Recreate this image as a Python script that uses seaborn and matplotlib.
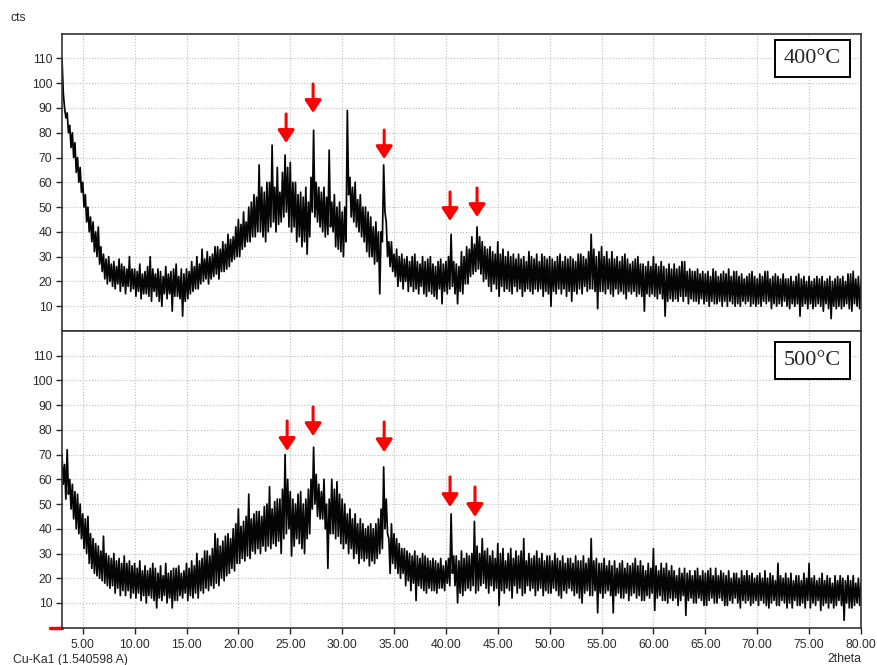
import numpy as np
import pandas as pd
import seaborn as sns
import matplotlib.pyplot as plt

# scan: 3.00 - 80.00 deg 2theta, step 0.125
two_theta = np.round(np.arange(3.0, 80.001, 0.125), 3)

# one row per degree (x.000 ... x.875)
cts_400 = [
    110, 96, 90, 86, 88, 80, 83, 74,   80, 70, 76, 64, 70, 60, 66, 56,
    60, 50, 55, 44, 50, 40, 46, 36,    44, 32, 40, 30, 42, 27, 34, 24,
    31, 21, 29, 19, 30, 20, 27, 18,    28, 17, 26, 19, 29, 16, 27, 18,
    26, 15, 25, 18, 30, 16, 25, 17,    25, 14, 24, 16, 27, 13, 23, 15,
    24, 15, 26, 14, 30, 12, 25, 16,    23, 14, 25, 12, 24, 10, 22, 15,
    26, 13, 23, 15, 24, 8, 25, 14,     27, 14, 22, 13, 25, 6, 23, 12,
    25, 13, 24, 15, 28, 16, 26, 17,    30, 17, 27, 19, 33, 20, 29, 21,
    32, 19, 30, 21, 31, 22, 34, 23,    34, 21, 33, 24, 36, 24, 35, 25,
    39, 26, 37, 28, 38, 29, 42, 30,    45, 30, 43, 33, 48, 34, 44, 36,
    50, 36, 52, 38, 55, 38, 54, 40,    67, 40, 58, 38, 56, 36, 60, 40,
    60, 42, 75, 44, 58, 40, 66, 43,    56, 44, 64, 46, 71, 48, 66, 42,
    68, 40, 60, 42, 60, 36, 55, 38,    56, 34, 54, 36, 58, 31, 52, 38,
    62, 48, 81, 46, 60, 44, 58, 42,    56, 40, 58, 38, 54, 39, 73, 42,
    52, 40, 55, 34, 50, 33, 52, 32,    48, 30, 50, 36, 89, 55, 62, 46,
    58, 44, 60, 42, 53, 40, 55, 38,    50, 36, 50, 32, 48, 30, 46, 30,
    42, 27, 44, 28, 40, 15, 40, 36,    67, 48, 44, 30, 36, 26, 36, 24,
    31, 22, 33, 18, 30, 20, 31, 17,    29, 20, 30, 16, 28, 18, 30, 16,
    31, 17, 28, 15, 27, 18, 30, 15,    28, 14, 29, 16, 30, 15, 27, 14,
    26, 13, 28, 17, 29, 11, 27, 16,    28, 15, 30, 17, 39, 18, 28, 15,
    27, 11, 26, 16, 32, 15, 30, 19,    34, 19, 33, 22, 38, 23, 35, 24,
    42, 25, 38, 23, 36, 20, 34, 21,    33, 18, 34, 16, 32, 19, 31, 17,
    36, 14, 31, 18, 33, 16, 30, 17,    32, 16, 30, 15, 31, 18, 29, 16,
    31, 17, 29, 14, 30, 16, 28, 17,    32, 16, 30, 15, 29, 17, 31, 16,
    28, 17, 31, 14, 30, 16, 29, 15,    30, 10, 29, 16, 28, 15, 30, 17,
    31, 15, 28, 17, 30, 14, 29, 16,    30, 12, 29, 16, 28, 15, 31, 17,
    31, 15, 30, 18, 29, 16, 32, 17,    39, 17, 33, 16, 30, 9, 32, 16,
    34, 16, 30, 15, 32, 17, 29, 15,    32, 14, 29, 17, 30, 15, 28, 16,
    30, 15, 31, 13, 29, 16, 27, 15,    28, 16, 29, 14, 30, 15, 27, 14,
    27, 8, 26, 15, 28, 14, 26, 15,     30, 14, 27, 13, 26, 15, 28, 13,
    26, 6, 25, 12, 27, 13, 25, 12,     27, 13, 25, 12, 26, 14, 28, 12,
    28, 14, 24, 11, 25, 13, 24, 12,    24, 12, 25, 11, 23, 13, 24, 11,
    23, 12, 24, 10, 22, 12, 25, 11,    24, 11, 22, 12, 23, 10, 24, 12,
    23, 10, 25, 12, 22, 11, 24, 10,    24, 11, 22, 10, 23, 12, 21, 11,
    22, 12, 23, 10, 24, 11, 22, 10,    21, 11, 23, 10, 22, 12, 24, 11,
    24, 12, 21, 9, 22, 11, 23, 10,     22, 11, 21, 10, 23, 12, 21, 10,
    21, 9, 22, 11, 20, 10, 22, 11,     23, 6, 21, 10, 22, 11, 20, 9,
    22, 11, 20, 9, 21, 10, 22, 11,     21, 10, 22, 8, 20, 11, 21, 9,
    22, 5, 20, 10, 21, 9, 22, 10,      21, 9, 22, 10, 20, 11, 23, 9,
    23, 8, 24, 11, 21, 10, 22, 9,
    20,
]

cts_500 = [
    70, 58, 66, 52, 72, 54, 60, 48,    58, 44, 55, 40, 54, 38, 50, 36,
    46, 32, 44, 30, 45, 26, 38, 24,    36, 22, 34, 21, 33, 20, 31, 19,
    37, 18, 30, 17, 29, 16, 28, 17,    30, 14, 27, 16, 28, 13, 26, 15,
    29, 13, 26, 15, 27, 12, 25, 14,    26, 12, 24, 14, 27, 11, 23, 13,
    25, 10, 23, 13, 24, 12, 26, 11,    24, 8, 22, 12, 25, 11, 21, 13,
    26, 10, 22, 12, 23, 8, 24, 11,     24, 11, 25, 13, 22, 12, 23, 14,
    26, 11, 24, 13, 27, 12, 25, 14,    30, 12, 27, 15, 28, 14, 31, 16,
    31, 15, 29, 17, 32, 16, 38, 18,    36, 17, 33, 20, 35, 19, 37, 21,
    38, 22, 36, 24, 40, 23, 42, 26,    48, 26, 41, 28, 43, 27, 45, 29,
    54, 28, 44, 31, 46, 30, 47, 32,    47, 30, 45, 33, 49, 31, 50, 33,
    57, 32, 48, 34, 51, 33, 52, 35,    52, 30, 56, 36, 70, 38, 60, 40,
    55, 29, 52, 33, 50, 36, 54, 34,    55, 32, 50, 30, 52, 36, 56, 38,
    60, 48, 73, 50, 62, 45, 58, 44,    55, 44, 60, 40, 50, 24, 52, 38,
    60, 38, 56, 36, 59, 37, 54, 34,    52, 32, 50, 34, 46, 30, 48, 32,
    44, 28, 46, 30, 42, 26, 44, 28,    42, 27, 40, 28, 41, 25, 42, 27,
    40, 26, 42, 28, 44, 30, 48, 32,    65, 40, 52, 38, 36, 22, 42, 26,
    38, 24, 36, 22, 34, 20, 32, 22,    32, 17, 31, 19, 30, 15, 29, 18,
    31, 11, 29, 17, 28, 16, 30, 15,    29, 14, 28, 16, 27, 15, 28, 15,
    27, 14, 26, 16, 28, 16, 25, 15,    27, 18, 28, 17, 46, 22, 29, 17,
    29, 10, 27, 14, 31, 13, 28, 15,    30, 16, 29, 15, 30, 17, 43, 14,
    33, 15, 30, 17, 36, 18, 31, 16,    32, 14, 29, 17, 31, 15, 28, 16,
    34, 9, 30, 15, 32, 14, 27, 16,     30, 15, 32, 12, 28, 17, 31, 14,
    29, 16, 31, 13, 36, 14, 27, 17,    30, 15, 28, 16, 29, 13, 31, 15,
    28, 16, 30, 13, 27, 15, 29, 14,    29, 14, 27, 16, 30, 15, 28, 13,
    27, 12, 29, 15, 26, 14, 28, 16,    28, 15, 26, 13, 29, 14, 27, 12,
    27, 10, 29, 14, 26, 15, 28, 13,    36, 13, 27, 15, 28, 6, 26, 14,
    26, 12, 28, 14, 25, 15, 27, 13,    25, 6, 27, 13, 24, 14, 26, 12,
    27, 12, 24, 14, 26, 11, 25, 13,    26, 14, 28, 12, 25, 13, 27, 11,
    25, 11, 23, 13, 26, 12, 24, 14,    32, 7, 25, 12, 23, 13, 26, 11,
    24, 11, 26, 10, 23, 12, 25, 11,    23, 12, 21, 9, 24, 11, 22, 13,
    24, 5, 22, 11, 23, 12, 21, 10,     23, 10, 24, 12, 21, 11, 23, 9,
    22, 9, 23, 11, 24, 12, 21, 10,     24, 10, 21, 12, 23, 11, 22, 9,
    21, 9, 23, 11, 20, 10, 22, 12,     22, 10, 20, 8, 23, 11, 21, 10,
    23, 11, 21, 9, 22, 10, 20, 11,     21, 9, 22, 11, 20, 10, 23, 9,
    20, 8, 22, 10, 21, 11, 19, 9,      26, 9, 21, 11, 20, 10, 22, 8,
    20, 10, 22, 8, 19, 11, 21, 9,      21, 9, 19, 10, 22, 8, 20, 11,
    26, 8, 20, 10, 21, 9, 19, 11,      20, 7, 22, 9, 19, 10, 21, 8,
    20, 10, 18, 8, 21, 9, 19, 11,      21, 9, 20, 3, 19, 10, 21, 8,
    19, 8, 21, 9, 18, 10, 20, 9,
    18,
]

labels = ['400\u00b0C', '500\u00b0C']

# red markers: (2theta, arrow top, arrow tip)
arrows_400 = [(24.6, 87.6, 75.9), (27.2, 99.7, 88.0), (34.05, 81.1, 69.4),
              (40.4, 56.1, 44.4), (43.0, 57.7, 46.0)]
arrows_500 = [(24.7, 83.6, 71.5), (27.2, 89.3, 77.5), (34.05, 83.2, 71.0),
              (40.4, 61.0, 48.8), (42.8, 56.9, 44.8)]

sns.set_style('white')
plt.rcParams['font.family'] = ['Liberation Sans', 'DejaVu Sans']

fig = plt.figure(figsize=(8.78, 6.65), dpi=100)
ax1 = fig.add_axes([0.0706, 0.5023, 0.9100, 0.4471])
ax2 = fig.add_axes([0.0706, 0.0561, 0.9100, 0.4462])

panels = [(ax1, cts_400, arrows_400, labels[0], 0.917),
          (ax2, cts_500, arrows_500, labels[1], 0.900)]

for ax, cts, arrows, lab, ly in panels:
    df = pd.DataFrame({'2theta': two_theta, 'cts': cts})
    sns.lineplot(data=df, x='2theta', y='cts', ax=ax, color='#050505',
                 lw=1.25, estimator=None, sort=False)
    ax.set_xlim(3, 80)
    ax.set_ylim(0, 120)
    ax.set_xticks(np.arange(5, 81, 5))
    ax.set_yticks(np.arange(10, 111, 10))
    ax.set_xlabel('')
    ax.set_ylabel('')
    ax.set_axisbelow(True)
    ax.grid(True, ls=':', color='#bdbdbd', lw=0.8)
    for s in ax.spines.values():
        s.set_color('#333333')
        s.set_linewidth(1.2)
    ax.tick_params(axis='y', direction='out', length=4, width=1, pad=3,
                   labelsize=8.8, labelcolor='#2a2a2a', left=True)
    ax.tick_params(axis='x', direction='out', length=4, width=1, pad=4,
                   labelsize=8.8, labelcolor='#2a2a2a', bottom=True)
    for x0, ytop, ytip in arrows:
        ax.annotate('', xy=(x0, ytip), xytext=(x0, ytop),
                    arrowprops=dict(arrowstyle='-|>,head_length=0.38,head_width=0.25',
                                    color='red', lw=2.2, mutation_scale=20,
                                    shrinkA=0, shrinkB=0))
    ax.text(0.939, ly, lab, transform=ax.transAxes, ha='center', va='center',
            fontsize=16, family=['Liberation Serif', 'DejaVu Serif'],
            bbox=dict(boxstyle='square,pad=0.4', fc='white', ec='black', lw=1.4))

ax1.tick_params(axis='x', length=0, labelbottom=False)
ax2.set_xticklabels([f'{v:.2f}' for v in np.arange(5, 81, 5)])
ax2.plot([-0.015, 0.0], [0, 0], transform=ax2.transAxes, color='red',
         lw=2.5, clip_on=False)

fig.text(11 / 878, 1 - 18 / 665, 'cts', ha='left', va='center',
         fontsize=8.8, color='#2a2a2a')
fig.text(13 / 878, 1 - 660 / 665, 'Cu-Ka1 (1.540598 A)', ha='left',
         va='center', fontsize=8.8, color='#2a2a2a')
fig.text(861 / 878, 1 - 659 / 665, '2theta', ha='right', va='center',
         fontsize=8.8, color='#2a2a2a')

fig.savefig('out.png', dpi=100)
